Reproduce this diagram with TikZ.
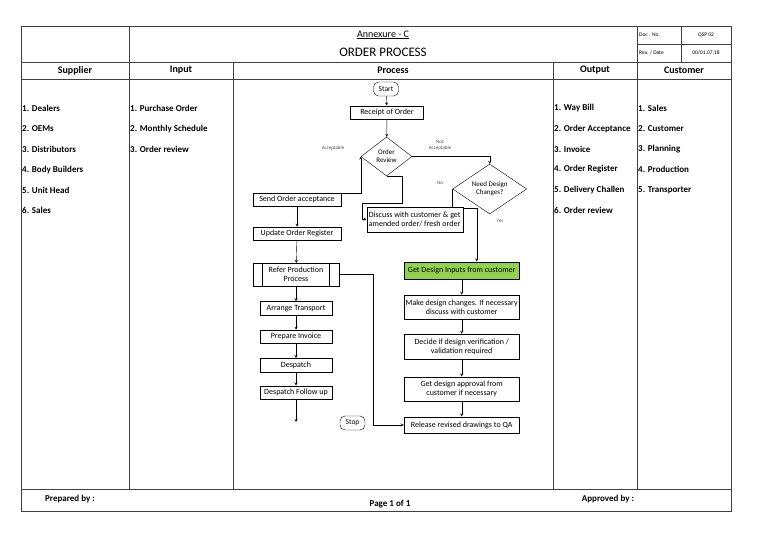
\documentclass[tikz,border=0pt]{standalone}
\usepackage{fontspec}
\setmainfont{Carlito}
\usepackage{xcolor,tikz}
\usetikzlibrary{calc,positioning,shapes.geometric}
\tikzset{>=stealth}
\definecolor{designgreen}{HTML}{92D050}
\tikzset{
  grid/.style={line width=0.9pt,black!75},
  item/.style={anchor=west,inner sep=0pt,font=\fontsize{9}{10}\selectfont\bfseries},
  colhead/.style={font=\fontsize{10}{12}\selectfont\bfseries},
  docfield/.style={inner sep=0pt,font=\fontsize{5.5}{6.5}\selectfont},
  box/.style={draw,rectangle,minimum height=13.5pt,inner sep=1pt,align=center,font=\fontsize{8}{9}\selectfont},
  term/.style={draw,rounded corners=5pt,minimum height=14pt,minimum width=25pt,inner sep=1pt,font=\fontsize{7.5}{9}\selectfont},
  decision/.style={draw,diamond,inner sep=0pt,align=center,font=\fontsize{7}{8}\selectfont},
  lbl/.style={inner sep=0pt,align=center,text=black!70,font=\fontsize{5}{6}\selectfont},
  foot/.style={font=\fontsize{9}{10}\selectfont\bfseries},
}
\begin{document}
\begin{tikzpicture}[x=1pt,y=-1pt]
\useasboundingbox (0,0) rectangle (768,543);
% form grid
\draw[grid] (21,26) rectangle (731,511);
\draw[grid] (21,62)--(731,62);
\draw[grid] (21,79)--(731,79);
\draw[grid] (21,489)--(731,489);
\draw[grid] (129,26)--(129,489);
\draw[grid] (637,26)--(637,489);
\foreach \x in {233,553}{
\draw[grid] (\x,62)--(\x,489);
};
\draw[grid] (681,26)--(681,62);
\draw[grid] (637,44)--(731,44);
% header
\node[font=\fontsize{10}{12}\selectfont] (annex) at (383,35) {\underline{Annexure - C}};
\node[font=\fontsize{13}{15}\selectfont] (title) at (383,52.5) {ORDER PROCESS};
\node[docfield,anchor=west] (docno) at (639,35) {Doc . No.};
\node[docfield] (docval) at (706,35) {QSP 02};
\node[docfield,anchor=west] (revno) at (639,53) {Rev. / Date};
\node[docfield] (revval) at (706,53) {00/01.07.18};
\foreach \x/\t in {75/Supplier,181/Input,393/Process,595/Output,684/Customer}{
\node[colhead] (head\t) at (\x,70.5) {\t};
};
% columns
\foreach \t [count=\i] in {Dealers,OEMs,Distributors,Body Builders,Unit Head,Sales}{
\node[item] (sup\i) at (22,88+20.4*\i) {\i. \t};
};
\foreach \t [count=\i] in {Purchase Order,Monthly Schedule,Order review}{
\node[item] (in\i) at (130,88+20.4*\i) {\i. \t};
};
\foreach \t [count=\i] in {Way Bill,Order Acceptance,Invoice,Order Register,Delivery Challen,Order review}{
\node[item] (out\i) at (554,88+20.4*\i) {\i. \t};
};
\foreach \t [count=\i] in {Sales,Customer,Planning,Production,Transporter}{
\node[item] (cus\i) at (638,88+20.4*\i) {\i. \t};
};
% process
\node[term] (start) at (386,89) {Start};
\node[box,minimum width=73pt] (receipt) at (387,112.5) {Receipt of Order};
\node[decision,minimum width=51pt,minimum height=39pt] (review) at (386.5,156.5) {Order\\Review};
\node[decision,minimum width=74pt,minimum height=40pt] (need) at (489.7,189) {Need Design\\Changes?};
\node[lbl] (acc) at (333,148) {Acceptable};
\node[lbl] (notacc) at (440,145) {Not\\Acceptable};
\node[lbl] (no) at (440,183) {No};
\node[lbl] (yes) at (500,221) {Yes};
\node[box,minimum width=88pt] (send) at (297,199.7) {Send Order acceptance};
\node[box,minimum width=88pt] (update) at (297,233.7) {Update Order Register};
\node[box,minimum width=96pt,minimum height=25pt,align=left,inner sep=0.5pt] (discuss) at (414.7,219.2) {Discuss with customer \& get\\amended order/ fresh order};
\node[box,minimum width=86.6pt,minimum height=22.4pt] (refer) at (296,274.5) {Refer Production\\Process};
\draw ([xshift=9.6pt]refer.north west)--([xshift=9.6pt]refer.south west);
\draw ([xshift=-10.3pt]refer.north east)--([xshift=-10.3pt]refer.south east);
\node[box,minimum width=71.7pt] (transport) at (296,308.3) {Arrange Transport};
\node[box,minimum width=71.7pt] (invoice) at (296,336.7) {Prepare Invoice};
\node[box,minimum width=71.7pt] (despatch) at (296,365) {Despatch};
\node[box,minimum width=71.7pt] (follow) at (296,392.5) {Despatch Follow up};
\coordinate (flowend) at (296,422);
\node[term] (stop) at (352.5,423) {Stop};
\node[box,fill=designgreen,minimum width=115.3pt,minimum height=17.6pt] (inputs) at (461.7,270.5) {Get Design Inputs from customer};
\node[box,minimum width=115.3pt,minimum height=24pt] (changes) at (461.7,307) {Make design changes. If necessary\\discuss with customer};
\node[box,minimum width=115.3pt,minimum height=25.3pt] (verify) at (461.7,346.7) {Decide if design verification /\\validation required};
\node[box,minimum width=115.3pt,minimum height=24pt] (approval) at (461.7,388.7) {Get design approval from\\customer if necessary};
\node[box,minimum width=115.3pt,minimum height=16.6pt] (release) at (461.7,425) {Release revised drawings to QA};
% connectors
\draw[->] (start)--(receipt);
\draw[->] (receipt)--(review);
\draw[->] (review.east) -| (need.north);
\draw[->] (send.north) -| (review.west);
\draw[->] (review.south) -- ++(16,0) |- ($(discuss.west)+(-4,-16)$) |- (discuss.west);
\draw (need.west)--(need.west |- discuss.north);
\draw[->] ([yshift=-1.5pt]discuss.north east) -| ([xshift=15pt]inputs.north);
\draw[->] (send)--(update);
\draw[->] (update)--(refer);
\draw[->] (refer)--(transport);
\draw[->] (transport)--(invoice);
\draw[->] (invoice)--(despatch);
\draw[->] (despatch)--(follow);
\draw[->] (follow)--(flowend);
\draw[->] (inputs)--(changes);
\draw[->] (changes)--(verify);
\draw[->] (verify)--(approval);
\draw[->] (approval)--(release);
\draw[->] (refer.east) -- ++(34,0) |- (release.west);
% footer
\node[foot] (prep) at (70,499) {Prepared by :};
\node[foot] (page) at (390,504) {Page 1 of 1};
\node[foot] (appr) at (608,499) {Approved by :};
\end{tikzpicture}
\end{document}
